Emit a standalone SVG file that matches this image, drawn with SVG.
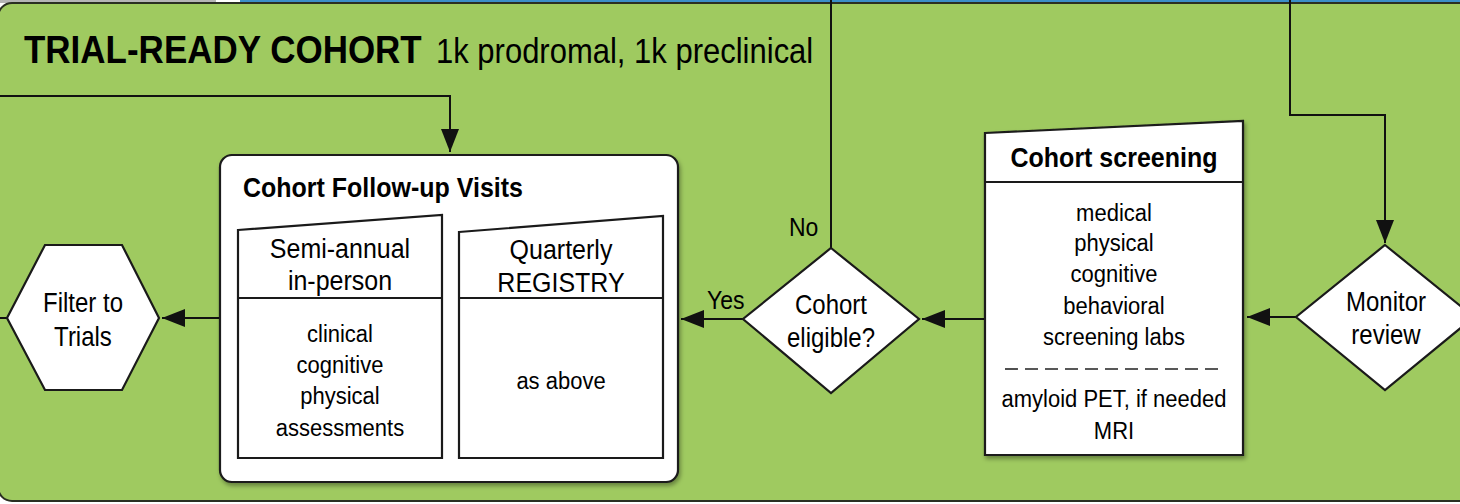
<svg xmlns="http://www.w3.org/2000/svg" width="1460" height="504" viewBox="0 0 1460 504">
<style>
text { font-family: "Liberation Sans", Arial, Helvetica, sans-serif; fill: #000; transform: scaleY(1.12); transform-box: fill-box; transform-origin: 50% 50%; }
.title { font-size: 35px; font-weight: bold; }
.sub { font-size: 31px; }
.bt { font-size: 25px; font-weight: bold; }
.hd { font-size: 25px; text-anchor: middle; }
.body { font-size: 22px; text-anchor: middle; }
.nd { font-size: 24px; text-anchor: middle; }
.lbl { font-size: 23px; }
.shape { fill: #fff; stroke: #1a1a1a; stroke-width: 2.2; }
.conn { fill: none; stroke: #111; stroke-width: 2; }
</style>
<defs>
<marker id="arr" markerUnits="userSpaceOnUse" markerWidth="24" markerHeight="19" refX="23" refY="9" orient="auto">
<path d="M0,0 L23,9 L0,18 Z" fill="#111"/>
</marker>
<filter id="sh" x="-10%" y="-10%" width="120%" height="125%">
<feDropShadow dx="1.5" dy="3" stdDeviation="2" flood-color="#000" flood-opacity="0.35"/>
</filter>
</defs>
<rect x="0" y="0" width="1460" height="504" fill="#ffffff"/>
<rect x="0" y="0" width="216" height="3" fill="#b5b5b5"/>
<rect x="240" y="0" width="1220" height="3" fill="#3b8ec8"/>
<rect x="-2" y="3" width="1520" height="498" rx="14" fill="#9fca60" stroke="#2a2f22" stroke-width="2"/>

<g id="title">
<text class="title" x="24" y="62">TRIAL-READY COHORT</text>
<text class="sub" x="436" y="62">1k prodromal, 1k preclinical</text>
</g>

<g id="connectors">
<path class="conn" d="M0,96 H450 V152" marker-end="url(#arr)"/>
<path class="conn" d="M831,248 V0"/>
<path class="conn" d="M1290,0 V115 H1385 V243" marker-end="url(#arr)"/>
<path class="conn" d="M1296,317 H1247" marker-end="url(#arr)"/>
<path class="conn" d="M985,319 H922" marker-end="url(#arr)"/>
<path class="conn" d="M743,319 H681" marker-end="url(#arr)"/>
<path class="conn" d="M220,318 H162" marker-end="url(#arr)"/>
<path class="conn" d="M0,318 H8"/>
<text class="lbl" x="789" y="235">No</text>
<text class="lbl" x="707" y="308">Yes</text>
</g>

<g id="followup">
<rect class="shape" x="220" y="155" width="458" height="327" rx="12" filter="url(#sh)" stroke-width="2.5"/>
<text class="bt" x="243" y="196">Cohort Follow-up Visits</text>
</g>

<g id="semiannual">
<polygon class="shape" points="238,230 442,215 442,458 238,458"/>
<line x1="238" y1="298" x2="442" y2="298" stroke="#1a1a1a" stroke-width="2.2"/>
<text class="hd" x="340" y="257">Semi-annual</text>
<text class="hd" x="340" y="289">in-person</text>
<text class="body" x="340" y="341">clinical</text>
<text class="body" x="340" y="372">cognitive</text>
<text class="body" x="340" y="403">physical</text>
<text class="body" x="340" y="435">assessments</text>
</g>

<g id="quarterly">
<polygon class="shape" points="459,232 663,216 663,458 459,458"/>
<line x1="459" y1="298" x2="663" y2="298" stroke="#1a1a1a" stroke-width="2.2"/>
<text class="hd" x="561" y="258">Quarterly</text>
<text class="hd" x="561" y="291">REGISTRY</text>
<text class="body" x="561" y="388">as above</text>
</g>

<g id="filter">
<polygon class="shape" points="7,318 45,245 122,245 159,318 122,390 45,390"/>
<text class="nd" x="83" y="311">Filter to</text>
<text class="nd" x="83" y="345">Trials</text>
</g>

<g id="eligible">
<polygon class="shape" points="831,248 919,319 831,393 743,319"/>
<text class="nd" x="831" y="313">Cohort</text>
<text class="nd" x="831" y="346">eligible?</text>
</g>

<g id="screening">
<polygon class="shape" points="985,133 1243,121 1243,455 985,455" filter="url(#sh)"/>
<line x1="985" y1="182" x2="1243" y2="182" stroke="#1a1a1a" stroke-width="2.2"/>
<text class="bt" x="1114" y="166" text-anchor="middle">Cohort screening</text>
<text class="body" x="1114" y="220">medical</text>
<text class="body" x="1114" y="250">physical</text>
<text class="body" x="1114" y="281">cognitive</text>
<text class="body" x="1114" y="313">behavioral</text>
<text class="body" x="1114" y="344">screening labs</text>
<line x1="1005" y1="369" x2="1225" y2="369" stroke="#222" stroke-width="1.6" stroke-dasharray="13,7"/>
<text class="body" x="1114" y="406">amyloid PET, if needed</text>
<text class="body" x="1114" y="438">MRI</text>
</g>

<g id="monitor">
<polygon class="shape" points="1385,245 1474,317 1385,390 1296,317"/>
<text class="nd" x="1386" y="310">Monitor</text>
<text class="nd" x="1386" y="343">review</text>
</g>
</svg>
